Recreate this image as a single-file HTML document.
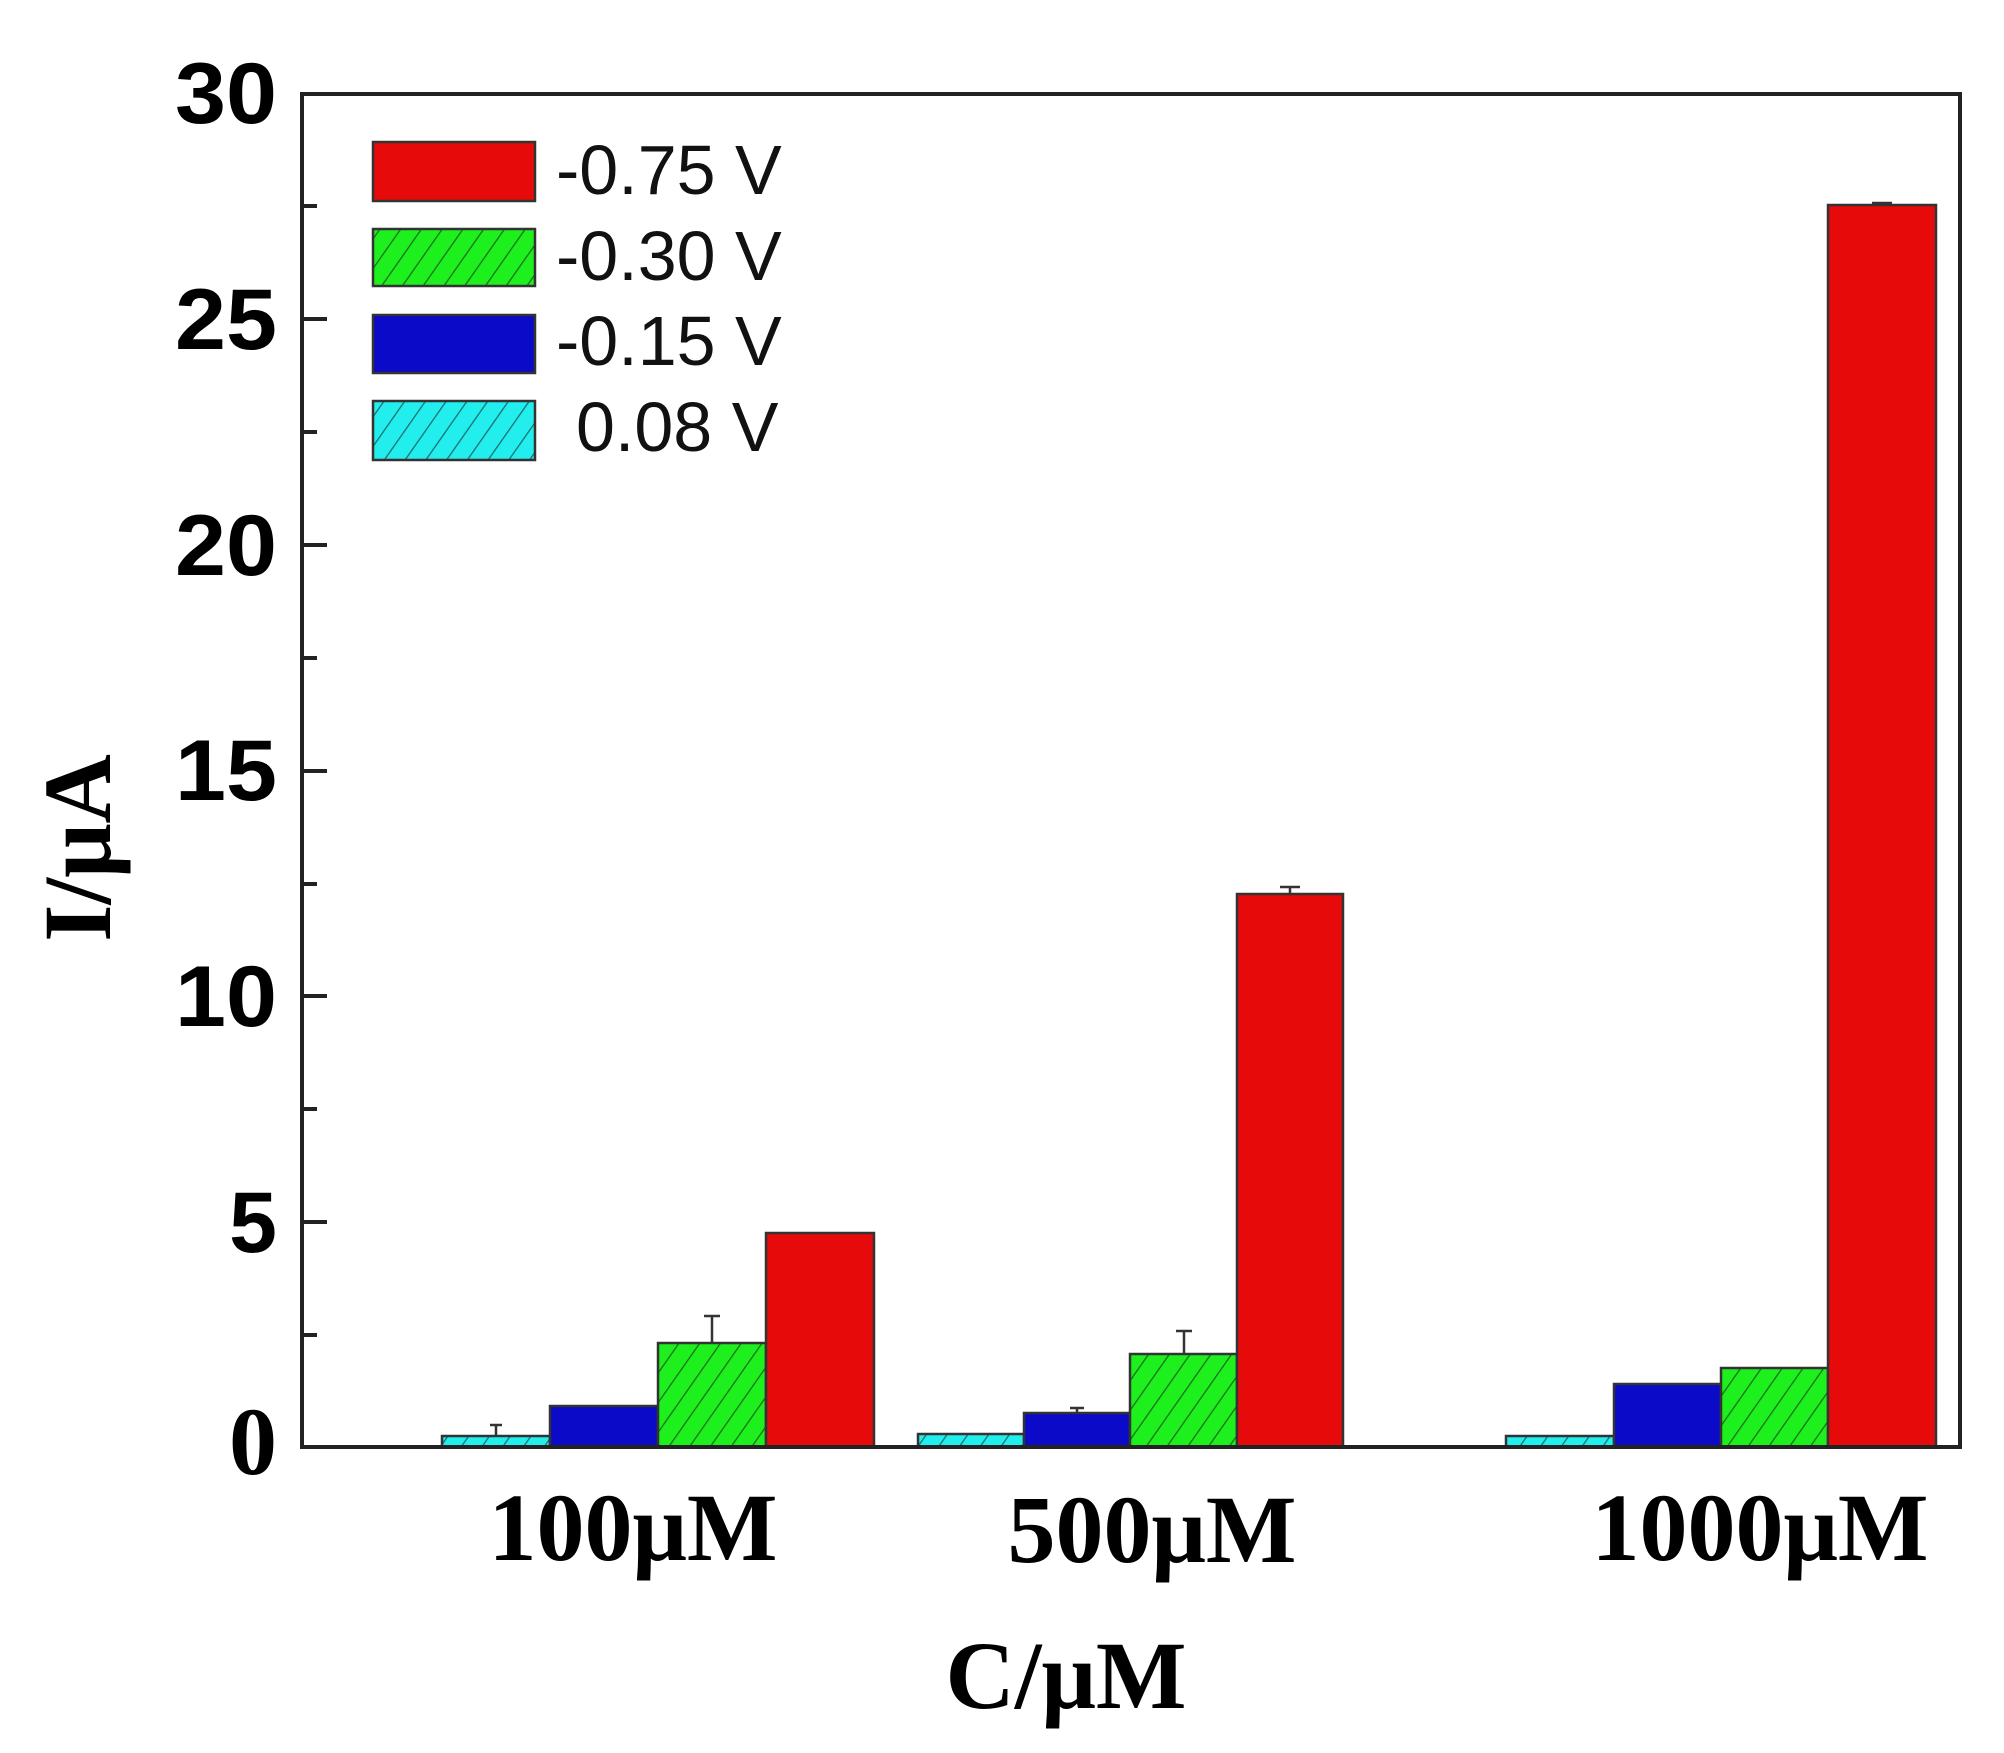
<!DOCTYPE html>
<html><head><meta charset="utf-8"><style>html,body{margin:0;padding:0;background:#fff}svg{display:block}</style></head>
<body>
<svg width="2004" height="1753" viewBox="0 0 2004 1753" xmlns="http://www.w3.org/2000/svg">
<defs>
<pattern id="hg" patternUnits="userSpaceOnUse" width="17" height="17" patternTransform="rotate(35)">
<rect width="17" height="17" fill="#1ef01e"/><line x1="0" y1="0" x2="0" y2="17" stroke="#1a6a1a" stroke-width="2.5"/></pattern>
<pattern id="hc" patternUnits="userSpaceOnUse" width="17" height="17" patternTransform="rotate(35)">
<rect width="17" height="17" fill="#22eeee"/><line x1="0" y1="0" x2="0" y2="17" stroke="#1a6a6a" stroke-width="2.5"/></pattern>
</defs>
<g stroke="#333" stroke-width="2.5">
<rect x="442" y="1436" width="108" height="11" fill="url(#hc)"/>
<rect x="550" y="1406" width="108" height="41" fill="#0a0ac8"/>
<rect x="658" y="1343" width="108" height="104" fill="url(#hg)"/>
<rect x="766" y="1233" width="108" height="214" fill="#e60a0a"/>
<rect x="918" y="1434" width="106" height="13" fill="url(#hc)"/>
<rect x="1024" y="1413" width="106" height="34" fill="#0a0ac8"/>
<rect x="1130" y="1354" width="107" height="93" fill="url(#hg)"/>
<rect x="1237" y="894" width="106" height="553" fill="#e60a0a"/>
<rect x="1506" y="1436" width="108" height="11" fill="url(#hc)"/>
<rect x="1614" y="1384" width="107" height="63" fill="#0a0ac8"/>
<rect x="1721" y="1368" width="107" height="79" fill="url(#hg)"/>
<rect x="1828" y="205" width="108" height="1242" fill="#e60a0a"/>
</g>
<g stroke="#333" stroke-width="2.5" fill="none">
<path d="M496 1436V1425M490 1425H502"/>
<path d="M712 1343V1316M704 1316H720"/>
<path d="M1184 1354V1331M1176 1331H1192"/>
<path d="M1077 1413V1408M1070 1408H1084"/>
<path d="M1290 894V887M1280 887H1300"/>
<path d="M1882 205V203M1872 203H1892"/>
</g>
<rect x="302" y="94" width="1658" height="1353" fill="none" stroke="#222" stroke-width="4"/>
<g stroke="#222" stroke-width="4">
<path d="M302 94h25M302 319h25M302 545h25M302 771h25M302 996h25M302 1222h25"/>
<path d="M302 206h15M302 432h15M302 658h15M302 884h15M302 1109h15M302 1335h15"/>
</g>
<g font-family="Liberation Sans, sans-serif" font-weight="bold" font-size="86" text-anchor="end" fill="#000">
<text x="277" y="123" textLength="102" lengthAdjust="spacingAndGlyphs">30</text>
<text x="277" y="349" textLength="102" lengthAdjust="spacingAndGlyphs">25</text>
<text x="277" y="575" textLength="102" lengthAdjust="spacingAndGlyphs">20</text>
<text x="277" y="800" textLength="102" lengthAdjust="spacingAndGlyphs">15</text>
<text x="277" y="1026" textLength="102" lengthAdjust="spacingAndGlyphs">10</text>
<text x="277" y="1252">5</text>
</g>
<text x="277" y="1474" font-family="Liberation Serif, serif" font-weight="bold" font-size="96" text-anchor="end">0</text>
<g stroke="#333" stroke-width="2.5">
<rect x="373" y="142" width="162" height="59" fill="#e60a0a"/>
<rect x="373" y="229" width="162" height="57" fill="url(#hg)"/>
<rect x="373" y="315" width="162" height="58" fill="#0a0ac8"/>
<rect x="373" y="401" width="162" height="59" fill="url(#hc)"/>
</g>
<g font-family="Liberation Sans, sans-serif" font-size="70" fill="#111">
<text x="556" y="194">-0.75 V</text>
<text x="556" y="280">-0.30 V</text>
<text x="556" y="365">-0.15 V</text>
<text x="576" y="451">0.08 V</text>
</g>
<g font-family="Liberation Serif, serif" font-weight="bold" font-size="96" text-anchor="middle" fill="#000">
<text x="633" y="1560">100μM</text>
<text x="1152" y="1562">500μM</text>
<text x="1760" y="1560">1000μM</text>
<text x="1066" y="1708">C/μM</text>
<text transform="translate(110,848) rotate(-90)">I/μA</text>
</g>
</svg>
</body></html>
